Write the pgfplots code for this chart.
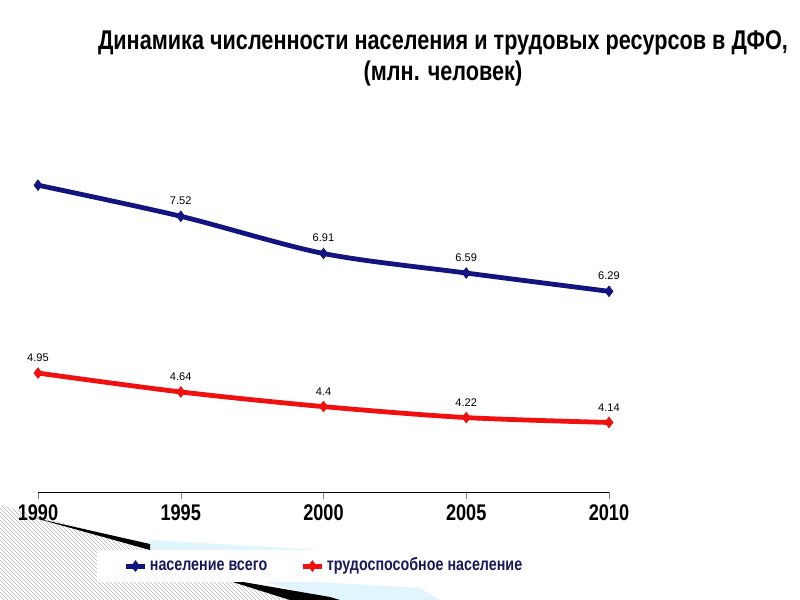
\documentclass[border=0pt]{standalone}
\usepackage{fontspec}
\setmainfont{Liberation Sans}
\newfontfamily\narrow[FakeStretch=0.8]{Liberation Sans}
\usepackage{pgfplots}
\pgfplotsset{compat=1.18}
\usetikzlibrary{patterns}
\definecolor{navyline}{RGB}{20,20,128}
\definecolor{redline}{RGB}{240,16,16}
\definecolor{legtext}{RGB}{25,25,90}
\begin{document}
\begin{tikzpicture}
\path[use as bounding box] (0pt,0pt) rectangle (600pt,-450pt);
\begin{scope}[x=0.75pt,y=-0.75pt]
\fill[pattern=north west lines, pattern color=gray!55] (0,505) -- (150,547) -- (230,580) -- (330,600) -- (0,600) -- cycle;
\fill[cyan!12!white] (150,540) -- (320,550) -- (150,552) -- cycle;
\fill[black] (35,518) -- (150,544) -- (150,550) -- cycle;
\fill[cyan!12!white] (250,578) -- (420,588) -- (440,600) -- (330,600) -- cycle;
\fill[black] (220,578) -- (330,597) -- (340,600) -- (290,600) -- cycle;
\node[font=\narrow\bfseries\fontsize{20.3}{23.5}\selectfont, align=center] at (443,58.5) {Динамика численности населения и трудовых ресурсов в ДФО,\\(млн. человек)};
\end{scope}
\begin{axis}[
  at={(28.5pt,-369pt)}, anchor=south west,
  scale only axis, width=428.25pt, height=274.5pt,
  xmin=1990, xmax=2010, ymin=3, ymax=9,
  axis x line*=bottom, axis y line=none,
  xtick={1990,1995,2000,2005,2010},
  xticklabels={1990,1995,2000,2005,2010},
  xticklabel style={font=\narrow\bfseries\fontsize{17}{17}\selectfont, yshift=-1pt},
  tick align=outside, major tick length=5pt,
  ytick=\empty,
  clip=false,
  nodes near coords,
  point meta=explicit symbolic,
  every node near coord/.append style={font=\fontsize{8.3}{8.3}\selectfont, anchor=south, yshift=5pt, text=black},
  legend style={at={(0.103,-0.158)}, anchor=north west, draw=none, fill=white,
    font=\narrow\bfseries\fontsize{13.4}{15}\selectfont, text=legtext,
    legend columns=2, inner xsep=20pt, inner ysep=4pt,
    nodes={text height=9pt, text depth=3pt},
    /tikz/every even column/.append style={column sep=23pt}},
  legend image code/.code={\draw[#1, mark repeat=2, mark phase=2] plot coordinates {(0pt,0pt) (7pt,0pt) (14pt,0pt)};},
]
\addplot[navyline, line width=3.6pt, smooth, tension=0.5, mark=diamond*, mark size=4pt, mark options={solid, line width=0.5pt}] table[meta=lab] {
x y lab
1990 8.03 {}
1995 7.52 7.52
2000 6.91 6.91
2005 6.59 6.59
2010 6.29 6.29
};
\addlegendentry{население всего}
\addplot[redline, line width=3.6pt, smooth, tension=0.5, mark=diamond*, mark size=4pt, mark options={solid, line width=0.5pt}] table[meta=lab] {
x y lab
1990 4.95 4.95
1995 4.64 4.64
2000 4.4 4.4
2005 4.22 4.22
2010 4.14 4.14
};
\addlegendentry{трудоспособное население}
\end{axis}
\end{tikzpicture}
\end{document}
